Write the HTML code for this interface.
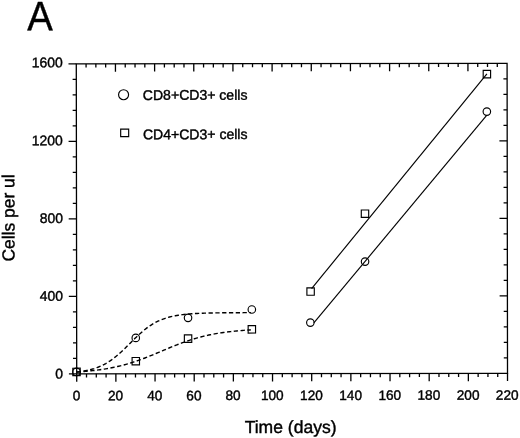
<!DOCTYPE html>
<html><head><meta charset="utf-8"><title>A</title>
<style>html,body{margin:0;padding:0;background:#fff;}svg{display:block;will-change:transform;}text{font-family:"Liberation Sans",sans-serif;fill:#000;stroke:#000;stroke-width:0.4px;}</style>
</head><body>
<svg width="520" height="438" viewBox="0 0 520 438">
<rect x="0" y="0" width="520" height="438" fill="#ffffff"/>
<g transform="rotate(-0.08 291 218)">
<text transform="translate(40.2,29.8) scale(0.93,1)" text-anchor="middle" font-size="41.2" stroke="none">A</text>
<g stroke="#000" stroke-width="1.3" fill="none" stroke-linecap="butt">
<rect x="76.5" y="63.6" width="430.8" height="310.0"/>
<path d="M76.50 373.6v7.8M86.29 373.6v3.7M86.29 63.6v3.7M96.08 373.6v3.7M96.08 63.6v3.7M105.87 373.6v3.7M105.87 63.6v3.7M115.66 373.6v7.8M115.66 63.6v7.8M125.45 373.6v3.7M125.45 63.6v3.7M135.25 373.6v3.7M135.25 63.6v3.7M145.04 373.6v3.7M145.04 63.6v3.7M154.83 373.6v7.8M154.83 63.6v7.8M164.62 373.6v3.7M164.62 63.6v3.7M174.41 373.6v3.7M174.41 63.6v3.7M184.20 373.6v3.7M184.20 63.6v3.7M193.99 373.6v7.8M193.99 63.6v7.8M203.78 373.6v3.7M203.78 63.6v3.7M213.57 373.6v3.7M213.57 63.6v3.7M223.36 373.6v3.7M223.36 63.6v3.7M233.15 373.6v7.8M233.15 63.6v7.8M242.95 373.6v3.7M242.95 63.6v3.7M252.74 373.6v3.7M252.74 63.6v3.7M262.53 373.6v3.7M262.53 63.6v3.7M272.32 373.6v7.8M272.32 63.6v7.8M282.11 373.6v3.7M282.11 63.6v3.7M291.90 373.6v3.7M291.90 63.6v3.7M301.69 373.6v3.7M301.69 63.6v3.7M311.48 373.6v7.8M311.48 63.6v7.8M321.27 373.6v3.7M321.27 63.6v3.7M331.06 373.6v3.7M331.06 63.6v3.7M340.85 373.6v3.7M340.85 63.6v3.7M350.65 373.6v7.8M350.65 63.6v7.8M360.44 373.6v3.7M360.44 63.6v3.7M370.23 373.6v3.7M370.23 63.6v3.7M380.02 373.6v3.7M380.02 63.6v3.7M389.81 373.6v7.8M389.81 63.6v7.8M399.60 373.6v3.7M399.60 63.6v3.7M409.39 373.6v3.7M409.39 63.6v3.7M419.18 373.6v3.7M419.18 63.6v3.7M428.97 373.6v7.8M428.97 63.6v7.8M438.76 373.6v3.7M438.76 63.6v3.7M448.55 373.6v3.7M448.55 63.6v3.7M458.35 373.6v3.7M458.35 63.6v3.7M468.14 373.6v7.8M468.14 63.6v7.8M477.93 373.6v3.7M477.93 63.6v3.7M487.72 373.6v3.7M487.72 63.6v3.7M497.51 373.6v3.7M497.51 63.6v3.7M507.30 373.6v7.8M76.5 373.60h-7.8M76.5 358.10h-3.7M507.3 358.10h-3.7M76.5 342.60h-3.7M507.3 342.60h-3.7M76.5 327.10h-3.7M507.3 327.10h-3.7M76.5 311.60h-3.7M507.3 311.60h-3.7M76.5 296.10h-7.8M507.3 296.10h-7.8M76.5 280.60h-3.7M507.3 280.60h-3.7M76.5 265.10h-3.7M507.3 265.10h-3.7M76.5 249.60h-3.7M507.3 249.60h-3.7M76.5 234.10h-3.7M507.3 234.10h-3.7M76.5 218.60h-7.8M507.3 218.60h-7.8M76.5 203.10h-3.7M507.3 203.10h-3.7M76.5 187.60h-3.7M507.3 187.60h-3.7M76.5 172.10h-3.7M507.3 172.10h-3.7M76.5 156.60h-3.7M507.3 156.60h-3.7M76.5 141.10h-7.8M507.3 141.10h-7.8M76.5 125.60h-3.7M507.3 125.60h-3.7M76.5 110.10h-3.7M507.3 110.10h-3.7M76.5 94.60h-3.7M507.3 94.60h-3.7M76.5 79.10h-3.7M507.3 79.10h-3.7M76.5 63.60h-7.8"/>
</g>
<g font-size="13.95" style="stroke-width:0.5px">
<text x="76.20" y="400.0" text-anchor="middle" font-size="13.65">0</text>
<text x="115.36" y="400.0" text-anchor="middle" font-size="13.65">20</text>
<text x="154.53" y="400.0" text-anchor="middle" font-size="13.65">40</text>
<text x="193.69" y="400.0" text-anchor="middle" font-size="13.65">60</text>
<text x="232.85" y="400.0" text-anchor="middle" font-size="13.65">80</text>
<text x="272.02" y="400.0" text-anchor="middle" font-size="13.65">100</text>
<text x="311.18" y="400.0" text-anchor="middle" font-size="13.65">120</text>
<text x="350.35" y="400.0" text-anchor="middle" font-size="13.65">140</text>
<text x="389.51" y="400.0" text-anchor="middle" font-size="13.65">160</text>
<text x="428.67" y="400.0" text-anchor="middle" font-size="13.65">180</text>
<text x="467.84" y="400.0" text-anchor="middle" font-size="13.65">200</text>
<text x="507.00" y="400.0" text-anchor="middle" font-size="13.65">220</text>
<text x="62.9" y="378.10" text-anchor="end">0</text>
<text x="62.9" y="300.50" text-anchor="end">400</text>
<text x="62.9" y="222.70" text-anchor="end">800</text>
<text x="62.9" y="144.90" text-anchor="end">1200</text>
<text x="62.9" y="66.90" text-anchor="end">1600</text>
</g>
<text x="290.3" y="433" font-size="17.55" text-anchor="middle">Time (days)</text>
<text transform="translate(14.4,217.6) rotate(-90)" font-size="17.45" text-anchor="middle">Cells per ul</text>
<g font-size="14.05" style="stroke-width:0.5px">
<text x="143" y="99.7">CD8+CD3+ cells</text>
<text x="143" y="139">CD4+CD3+ cells</text>
</g>
<g stroke="#000" stroke-width="1.15" fill="none">
<circle cx="123.75" cy="94.5" r="5.0"/>
<rect x="120.8" y="128.9" width="8" height="7.5"/>
<polyline points="76.50,371.79 77.95,371.62 79.40,371.43 80.86,371.22 82.31,370.99 83.76,370.74 85.21,370.47 86.67,370.18 88.12,369.86 89.57,369.51 91.02,369.13 92.48,368.72 93.93,368.28 95.38,367.80 96.83,367.28 98.28,366.73 99.74,366.12 101.19,365.48 102.64,364.79 104.09,364.05 105.55,363.26 107.00,362.42 108.45,361.52 109.90,360.58 111.36,359.58 112.81,358.53 114.26,357.42 115.71,356.27 117.16,355.07 118.62,353.82 120.07,352.53 121.52,351.20 122.97,349.84 124.43,348.45 125.88,347.03 127.33,345.60 128.78,344.16 130.24,342.71 131.69,341.26 133.14,339.83 134.59,338.40 136.05,337.00 137.50,335.62 138.95,334.28 140.40,332.97 141.85,331.70 143.31,330.48 144.76,329.30 146.21,328.17 147.66,327.09 149.12,326.07 150.57,325.10 152.02,324.18 153.47,323.31 154.93,322.50 156.38,321.73 157.83,321.02 159.28,320.35 160.73,319.73 162.19,319.15 163.64,318.61 165.09,318.12 166.54,317.65 168.00,317.23 169.45,316.84 170.90,316.47 172.35,316.14 173.81,315.84 175.26,315.55 176.71,315.30 178.16,315.06 179.61,314.84 181.07,314.64 182.52,314.46 183.97,314.29 185.42,314.14 186.88,314.00 188.33,313.88 189.78,313.76 191.23,313.65 192.69,313.56 194.14,313.47 195.59,313.39 197.04,313.32 198.49,313.25 199.95,313.19 201.40,313.13 202.85,313.08 204.30,313.04 205.76,312.99 207.21,312.96 208.66,312.92 210.11,312.89 211.57,312.86 213.02,312.83 214.47,312.81 215.92,312.79 217.37,312.77 218.83,312.75 220.28,312.73 221.73,312.72 223.18,312.71 224.64,312.69 226.09,312.68 227.54,312.67 228.99,312.66 230.45,312.65 231.90,312.65 233.35,312.64 234.80,312.63 236.25,312.63 237.71,312.62 239.16,312.62 240.61,312.61 242.06,312.61 243.52,312.60 244.97,312.60 246.42,312.60 247.87,312.60 249.33,312.59 250.78,312.59" stroke-width="1.4" stroke-dasharray="4.3 2.5"/>
<polyline points="76.50,371.76 77.95,371.67 79.40,371.56 80.86,371.46 82.31,371.34 83.76,371.22 85.21,371.10 86.67,370.97 88.12,370.83 89.57,370.69 91.02,370.53 92.48,370.38 93.93,370.21 95.38,370.04 96.83,369.86 98.28,369.66 99.74,369.47 101.19,369.26 102.64,369.04 104.09,368.81 105.55,368.58 107.00,368.33 108.45,368.07 109.90,367.81 111.36,367.53 112.81,367.24 114.26,366.94 115.71,366.62 117.16,366.30 118.62,365.96 120.07,365.61 121.52,365.25 122.97,364.87 124.43,364.48 125.88,364.08 127.33,363.67 128.78,363.24 130.24,362.81 131.69,362.36 133.14,361.89 134.59,361.42 136.05,360.93 137.50,360.43 138.95,359.92 140.40,359.39 141.85,358.86 143.31,358.32 144.76,357.77 146.21,357.20 147.66,356.63 149.12,356.06 150.57,355.47 152.02,354.88 153.47,354.28 154.93,353.68 156.38,353.07 157.83,352.46 159.28,351.85 160.73,351.24 162.19,350.63 163.64,350.01 165.09,349.40 166.54,348.79 168.00,348.19 169.45,347.59 170.90,346.99 172.35,346.40 173.81,345.81 175.26,345.23 176.71,344.66 178.16,344.10 179.61,343.55 181.07,343.00 182.52,342.47 183.97,341.95 185.42,341.44 186.88,340.94 188.33,340.45 189.78,339.97 191.23,339.51 192.69,339.06 194.14,338.62 195.59,338.19 197.04,337.78 198.49,337.38 199.95,336.99 201.40,336.62 202.85,336.26 204.30,335.91 205.76,335.57 207.21,335.24 208.66,334.93 210.11,334.63 211.57,334.34 213.02,334.06 214.47,333.79 215.92,333.53 217.37,333.29 218.83,333.05 220.28,332.82 221.73,332.61 223.18,332.40 224.64,332.20 226.09,332.01 227.54,331.83 228.99,331.65 230.45,331.49 231.90,331.33 233.35,331.18 234.80,331.03 236.25,330.90 237.71,330.77 239.16,330.64 240.61,330.52 242.06,330.41 243.52,330.30 244.97,330.20 246.42,330.10 247.87,330.01 249.33,329.92 250.78,329.83" stroke-width="1.4" stroke-dasharray="4.3 2.5"/>
<line x1="311.5" y1="288.6" x2="487.1" y2="74.2"/>
<line x1="313.7" y1="323.0" x2="486.8" y2="115.6"/>
<circle cx="76.3" cy="371.6" r="3.75"/>
<circle cx="135.6" cy="337.7" r="3.75"/>
<circle cx="187.9" cy="317.7" r="3.75"/>
<circle cx="251.7" cy="309.4" r="3.75"/>
<circle cx="310.2" cy="322.6" r="3.75"/>
<circle cx="365" cy="261.7" r="3.75"/>
<circle cx="487" cy="111.85" r="3.75"/>
<rect x="72.60" y="367.90" width="7.4" height="7.4"/>
<rect x="131.90" y="357.30" width="7.4" height="7.4"/>
<rect x="184.20" y="334.80" width="7.4" height="7.4"/>
<rect x="248.00" y="325.60" width="7.4" height="7.4"/>
<rect x="306.80" y="287.90" width="7.4" height="7.4"/>
<rect x="361.30" y="210.10" width="7.4" height="7.4"/>
<rect x="483.40" y="70.70" width="7.4" height="7.4"/>
</g>
</g>
</svg></body></html>
